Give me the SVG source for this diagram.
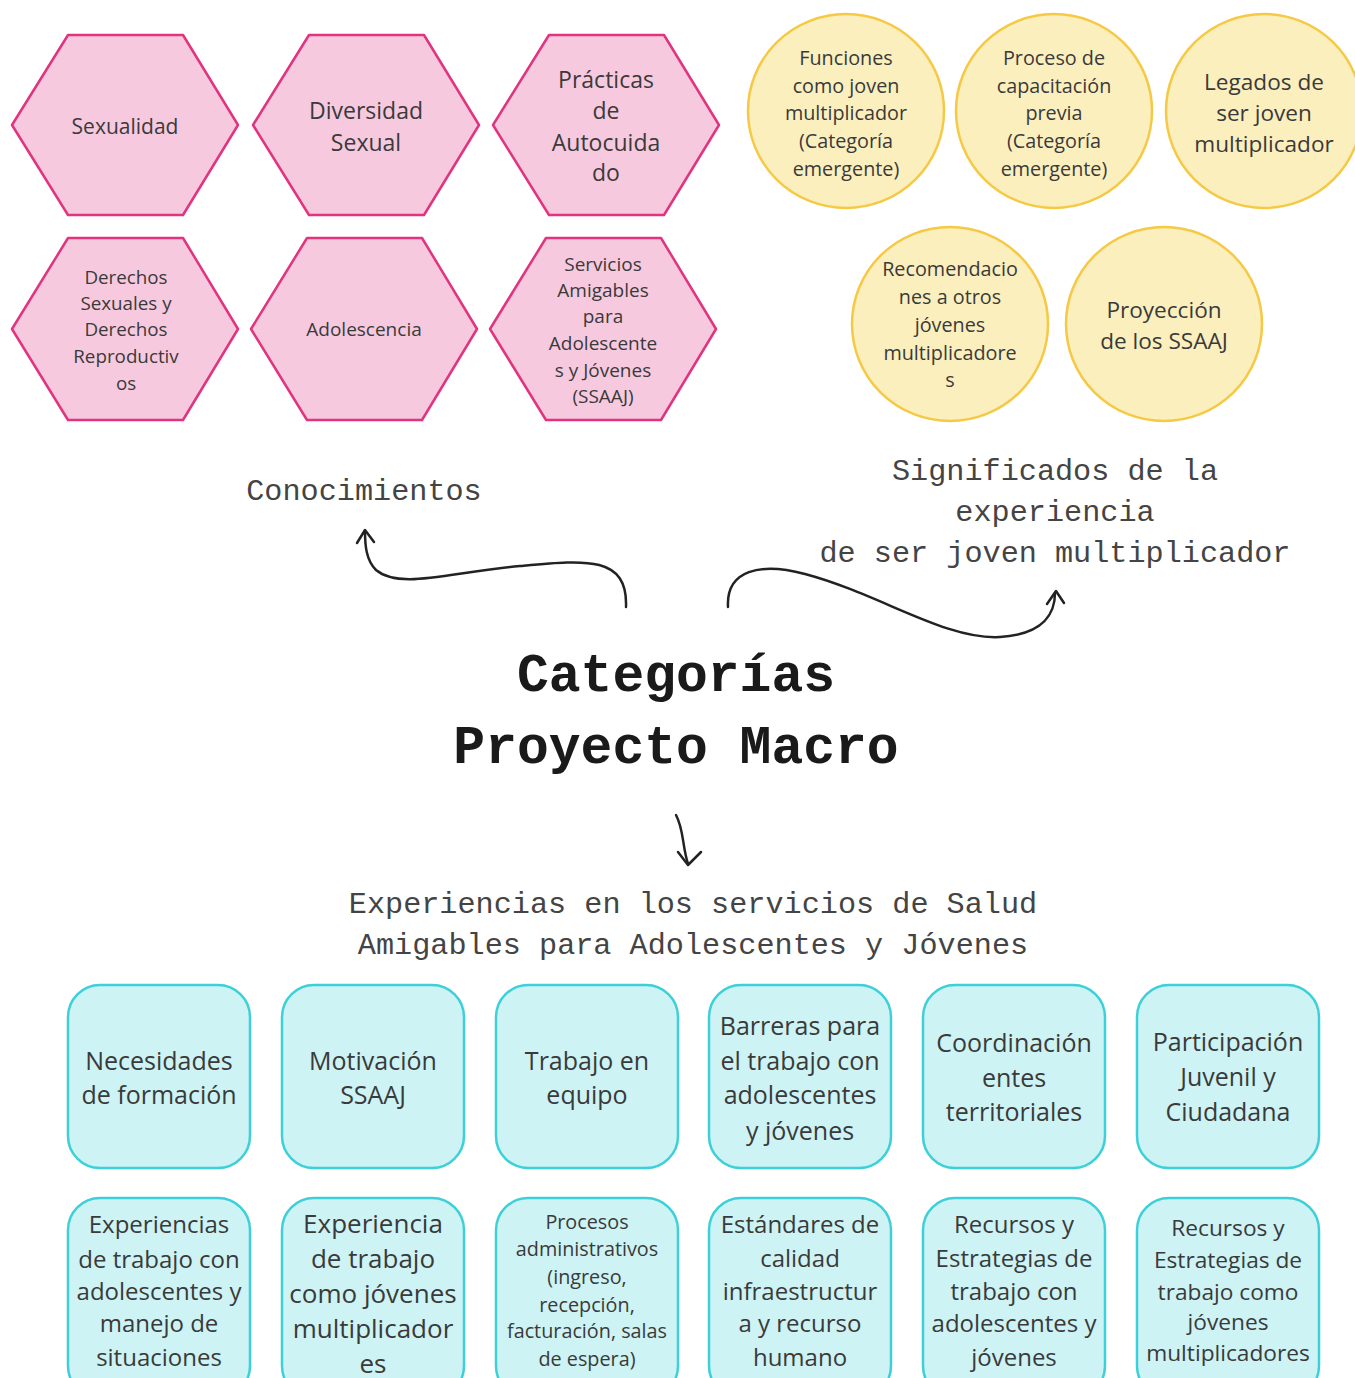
<svg xmlns="http://www.w3.org/2000/svg" width="1355" height="1378" viewBox="0 0 1355 1378">
<style>
.hex{fill:#f7c9df;stroke:#e2337f;stroke-width:2.5;stroke-linejoin:round}
.cir{fill:#fcefbe;stroke:#f6c945;stroke-width:2.5}
.box{fill:#cdf3f5;stroke:#3dd0d8;stroke-width:2.5}
.t{font-family:"Open Sans","Noto Sans","Liberation Sans",sans-serif;fill:#3a3a3a;text-anchor:middle;dominant-baseline:central}
.m{font-family:"Liberation Mono","DejaVu Sans Mono",monospace;fill:#444;text-anchor:middle;font-size:30.2px}
.title{font-family:"Liberation Mono","DejaVu Sans Mono",monospace;fill:#1a1a1a;text-anchor:middle;font-size:53px;font-weight:bold}
.arr{fill:none;stroke:#222;stroke-width:2.5;stroke-linecap:round;stroke-linejoin:round}
</style>
<rect width="1355" height="1378" fill="#ffffff"/>

<g id="n-sexualidad"><polygon class="hex" points="12,125 68,35 183,35 238,125 183,215 68,215"/><text class="t" font-size="21" x="125" y="126">Sexualidad</text></g>
<g id="n-diversidad"><polygon class="hex" points="253,125 309,35 424,35 479,125 424,215 309,215"/><text class="t" font-size="23"><tspan x="366" y="110">Diversidad</tspan><tspan x="366" y="142">Sexual</tspan></text></g>
<g id="n-practicas"><polygon class="hex" points="493,125 549,35 664,35 719,125 664,215 549,215"/><text class="t" font-size="23"><tspan x="606" y="79">Prácticas</tspan><tspan x="606" y="110">de</tspan><tspan x="606" y="142">Autocuida</tspan><tspan x="606" y="172">do</tspan></text></g>
<g id="n-derechos"><polygon class="hex" points="12,329 68,238 183,238 238,329 183,420 68,420"/><text class="t" font-size="18.8"><tspan x="126" y="277">Derechos</tspan><tspan x="126" y="303">Sexuales y</tspan><tspan x="126" y="329">Derechos</tspan><tspan x="126" y="356">Reproductiv</tspan><tspan x="126" y="383">os</tspan></text></g>
<g id="n-adolescencia"><polygon class="hex" points="251,329 307,238 422,238 477,329 422,420 307,420"/><text class="t" font-size="19" x="364" y="329">Adolescencia</text></g>
<g id="n-servicios"><polygon class="hex" points="490,329 546,238 661,238 716,329 661,420 546,420"/><text class="t" font-size="19"><tspan x="603" y="264">Servicios</tspan><tspan x="603" y="290">Amigables</tspan><tspan x="603" y="316">para</tspan><tspan x="603" y="343">Adolescente</tspan><tspan x="603" y="370">s y Jóvenes</tspan><tspan x="603" y="396">(SSAAJ)</tspan></text></g>

<g id="n-funciones"><ellipse class="cir" cx="846" cy="111" rx="98" ry="97"/><text class="t" font-size="19.8"><tspan x="846" y="57">Funciones</tspan><tspan x="846" y="85">como joven</tspan><tspan x="846" y="112">multiplicador</tspan><tspan x="846" y="140">(Categoría</tspan><tspan x="846" y="168">emergente)</tspan></text></g>
<g id="n-proceso"><ellipse class="cir" cx="1054" cy="111" rx="98" ry="97"/><text class="t" font-size="19.8"><tspan x="1054" y="57">Proceso de</tspan><tspan x="1054" y="85">capacitación</tspan><tspan x="1054" y="112">previa</tspan><tspan x="1054" y="140">(Categoría</tspan><tspan x="1054" y="168">emergente)</tspan></text></g>
<g id="n-legados"><ellipse class="cir" cx="1264" cy="111" rx="98" ry="97"/><text class="t" font-size="22.6"><tspan x="1264" y="81">Legados de</tspan><tspan x="1264" y="112">ser joven</tspan><tspan x="1264" y="143">multiplicador</tspan></text></g>
<g id="n-recomendaciones"><ellipse class="cir" cx="950" cy="324" rx="98" ry="97"/><text class="t" font-size="19.8"><tspan x="950" y="268">Recomendacio</tspan><tspan x="950" y="296">nes a otros</tspan><tspan x="950" y="324">jóvenes</tspan><tspan x="950" y="352">multiplicadore</tspan><tspan x="950" y="379">s</tspan></text></g>
<g id="n-proyeccion"><ellipse class="cir" cx="1164" cy="324" rx="98" ry="97"/><text class="t" font-size="22.6"><tspan x="1164" y="309">Proyección</tspan><tspan x="1164" y="340">de los SSAAJ</tspan></text></g>

<g id="n-conocimientos"><text class="m" x="364" y="500">Conocimientos</text></g>
<g id="n-significados"><text class="m"><tspan x="1055" y="480">Significados de la</tspan><tspan x="1055" y="521">experiencia</tspan><tspan x="1055" y="562">de ser joven multiplicador</tspan></text></g>
<g id="n-titulo"><text class="title"><tspan x="676" y="691">Categorías</tspan><tspan x="676" y="763">Proyecto Macro</tspan></text></g>
<g id="n-experiencias"><text class="m"><tspan x="693" y="913">Experiencias en los servicios de Salud</tspan><tspan x="693" y="954">Amigables para Adolescentes y Jóvenes</tspan></text></g>

<g id="connectors">
<path class="arr" d="M626,607 C628,555 585,560 520,566 C450,572 400,590 376,570 C366,560 365,545 365,531"/>
<path class="arr" d="M357,543 L365,530 L374,542"/>
<path class="arr" d="M728,607 C726,570 760,562 805,574 C880,594 945,640 1000,637 C1045,634 1055,612 1055,593"/>
<path class="arr" d="M1047,604 L1056,591 L1064,603"/>
<path class="arr" d="M676,815 C684,830 682,845 688,864"/>
<path class="arr" d="M678,852 L688,865 L701,852"/>
</g>

<g id="n-necesidades"><rect class="box" x="68" y="985" width="182" height="183" rx="32"/><text class="t" font-size="25"><tspan x="159" y="1060">Necesidades</tspan><tspan x="159" y="1094">de formación</tspan></text></g>
<g id="n-motivacion"><rect class="box" x="282" y="985" width="182" height="183" rx="32"/><text class="t" font-size="25"><tspan x="373" y="1060">Motivación</tspan><tspan x="373" y="1094">SSAAJ</tspan></text></g>
<g id="n-trabajo"><rect class="box" x="496" y="985" width="182" height="183" rx="32"/><text class="t" font-size="25"><tspan x="587" y="1060">Trabajo en</tspan><tspan x="587" y="1094">equipo</tspan></text></g>
<g id="n-barreras"><rect class="box" x="709" y="985" width="182" height="183" rx="32"/><text class="t" font-size="25"><tspan x="800" y="1025">Barreras para</tspan><tspan x="800" y="1060">el trabajo con</tspan><tspan x="800" y="1094">adolescentes</tspan><tspan x="800" y="1130">y jóvenes</tspan></text></g>
<g id="n-coordinacion"><rect class="box" x="923" y="985" width="182" height="183" rx="32"/><text class="t" font-size="25"><tspan x="1014" y="1042">Coordinación</tspan><tspan x="1014" y="1077">entes</tspan><tspan x="1014" y="1111">territoriales</tspan></text></g>
<g id="n-participacion"><rect class="box" x="1137" y="985" width="182" height="183" rx="32"/><text class="t" font-size="25"><tspan x="1228" y="1041">Participación</tspan><tspan x="1228" y="1076">Juvenil y</tspan><tspan x="1228" y="1111">Ciudadana</tspan></text></g>

<g id="n-exp-trabajo"><rect class="box" x="68" y="1198" width="182" height="200" rx="32"/><text class="t" font-size="24"><tspan x="159" y="1223">Experiencias</tspan><tspan x="159" y="1258">de trabajo con</tspan><tspan x="159" y="1290">adolescentes y</tspan><tspan x="159" y="1322">manejo de</tspan><tspan x="159" y="1356">situaciones</tspan></text></g>
<g id="n-exp-multiplicadores"><rect class="box" x="282" y="1198" width="182" height="200" rx="32"/><text class="t" font-size="26"><tspan x="373" y="1223">Experiencia</tspan><tspan x="373" y="1258">de trabajo</tspan><tspan x="373" y="1293">como jóvenes</tspan><tspan x="373" y="1328">multiplicador</tspan><tspan x="373" y="1363">es</tspan></text></g>
<g id="n-procesos"><rect class="box" x="496" y="1198" width="182" height="200" rx="32"/><text class="t" font-size="19.8"><tspan x="587" y="1221">Procesos</tspan><tspan x="587" y="1248">administrativos</tspan><tspan x="587" y="1276">(ingreso,</tspan><tspan x="587" y="1304">recepción,</tspan><tspan x="587" y="1330">facturación, salas</tspan><tspan x="587" y="1358">de espera)</tspan></text></g>
<g id="n-estandares"><rect class="box" x="709" y="1198" width="182" height="200" rx="32"/><text class="t" font-size="24"><tspan x="800" y="1223">Estándares de</tspan><tspan x="800" y="1257">calidad</tspan><tspan x="800" y="1290">infraestructur</tspan><tspan x="800" y="1322">a y recurso</tspan><tspan x="800" y="1356">humano</tspan></text></g>
<g id="n-recursos-adol"><rect class="box" x="923" y="1198" width="182" height="200" rx="32"/><text class="t" font-size="24"><tspan x="1014" y="1223">Recursos y</tspan><tspan x="1014" y="1257">Estrategias de</tspan><tspan x="1014" y="1290">trabajo con</tspan><tspan x="1014" y="1322">adolescentes y</tspan><tspan x="1014" y="1356">jóvenes</tspan></text></g>
<g id="n-recursos-mult"><rect class="box" x="1137" y="1198" width="182" height="200" rx="32"/><text class="t" font-size="22.7"><tspan x="1228" y="1227">Recursos y</tspan><tspan x="1228" y="1259">Estrategias de</tspan><tspan x="1228" y="1291">trabajo como</tspan><tspan x="1228" y="1321">jóvenes</tspan><tspan x="1228" y="1352">multiplicadores</tspan></text></g>
</svg>
